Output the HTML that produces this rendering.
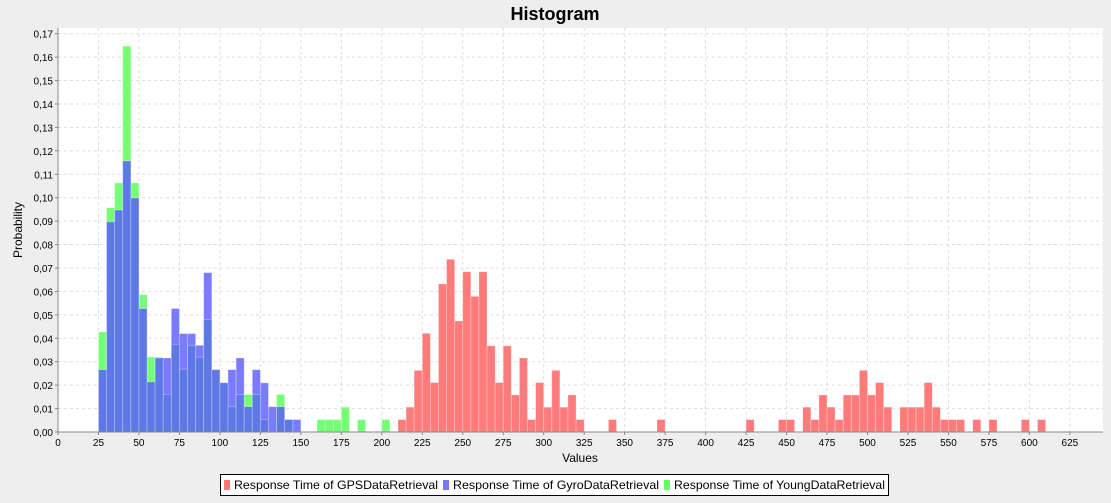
<!DOCTYPE html>
<html><head><meta charset="utf-8"><style>
body{margin:0;background:#eeeeee;font-family:"Liberation Sans",sans-serif}
svg text{font-family:"Liberation Sans",sans-serif}
</style></head><body>
<svg id="c" width="1111" height="498" xmlns="http://www.w3.org/2000/svg">
<rect x="0" y="0" width="1111" height="498" fill="#eeeeee"/>
<text x="555" y="20" text-anchor="middle" font-size="18" font-weight="bold">Histogram</text>
<rect x="58" y="28" width="1045" height="404" fill="#fff"/>
<g id="grid"></g>
<g id="bars"></g>
<g id="axes"></g>
<text x="22" y="230" transform="rotate(-90 22 230)" text-anchor="middle" font-size="12">Probability</text>
<text x="580" y="462" text-anchor="middle" font-size="12">Values</text>
<g>
<rect x="220.5" y="474.5" width="668" height="21" fill="#fff" stroke="#000"/>
<rect x="224" y="480" width="6" height="10" fill="#ff7777"/>
<text x="234" y="489" font-size="12" textLength="204" lengthAdjust="spacingAndGlyphs">Response Time of GPSDataRetrieval</text>
<rect x="443" y="480" width="6" height="10" fill="#7777ff"/>
<text x="453" y="489" font-size="12" textLength="206" lengthAdjust="spacingAndGlyphs">Response Time of GyroDataRetrieval</text>
<rect x="664" y="480" width="6" height="10" fill="#66ff66"/>
<text x="674" y="489" font-size="12" textLength="211" lengthAdjust="spacingAndGlyphs">Response Time of YoungDataRetrieval</text>
</g>
</svg>
<script>
const binWidth = 5;
const gpsBins = [210,215,220,225,230,235,240,245,250,255,260,265,270,275,280,285,290,295,300,305,310,315,320,340,370,425,445,450,460,465,470,475,480,485,490,495,500,505,510,520,525,530,535,540,545,550,555,565,575,595,605];
const gpsValues = [0.0053,0.0106,0.0263,0.0421,0.0211,0.0632,0.0737,0.0474,0.0684,0.0579,0.0684,0.0368,0.0211,0.0368,0.0158,0.0316,0.0053,0.0211,0.0106,0.0263,0.0106,0.0158,0.0053,0.0053,0.0053,0.0053,0.0053,0.0053,0.0106,0.0053,0.0158,0.0106,0.0053,0.0158,0.0158,0.0263,0.0158,0.0211,0.0106,0.0106,0.0106,0.0106,0.0211,0.0106,0.0053,0.0053,0.0053,0.0053,0.0053,0.0053,0.0053];
const gyroBins = [25,30,35,40,45,50,55,60,65,70,75,80,85,90,95,100,105,110,115,120,125,130,135,140,145];
const gyroValues = [0.0266,0.0897,0.0947,0.1157,0.0999,0.0527,0.0214,0.0316,0.0316,0.0527,0.042,0.042,0.037,0.068,0.0266,0.021,0.0266,0.0316,0.0108,0.0266,0.021,0.0108,0.0108,0.0053,0.0053];
const youngBins = [25,30,35,40,45,50,55,60,65,70,75,80,85,90,95,100,105,110,115,120,125,135,140,160,165,170,175,185,200];
const youngValues = [0.0427,0.0957,0.1063,0.1647,0.1063,0.0586,0.032,0.032,0.016,0.0374,0.0268,0.037,0.032,0.048,0.0266,0.021,0.0108,0.016,0.016,0.016,0.0053,0.016,0.0053,0.0053,0.0053,0.0053,0.0106,0.0053,0.0053];
const yTicks = [0,0.01,0.02,0.03,0.04,0.05,0.06,0.07,0.08,0.09,0.10,0.11,0.12,0.13,0.14,0.15,0.16,0.17];
const xTicks = [0,25,50,75,100,125,150,175,200,225,250,275,300,325,350,375,400,425,450,475,500,525,550,575,600,625];

const NS="http://www.w3.org/2000/svg";
const X0=58, X1=1103, Y0=432, Y1=28;
function xs(v){return X0+v*1.619;}
function ys(p){return Y0-p*2343;}
function mk(tag,attrs,parent){const e=document.createElementNS(NS,tag);for(const k in attrs)e.setAttribute(k,attrs[k]);parent.appendChild(e);return e;}
const grid=document.getElementById('grid'), axes=document.getElementById('axes'), bars=document.getElementById('bars');
yTicks.forEach(t=>{
  const y=ys(t);
  const g=mk('line',{x1:X0,x2:X1,y1:y,y2:y,stroke:'#dddddd','stroke-dasharray':'3,3'},grid);
  
  
  mk('line',{x1:X0-3,x2:X0,y1:y,y2:y,stroke:'#888'},axes);
  const tx=mk('text',{x:X0-5,y:y+4,'text-anchor':'end','font-size':'10'},axes);
  tx.textContent=t.toFixed(2).replace('.',',');
  
  
});
xTicks.forEach(t=>{
  const x=xs(t);
  const g=mk('line',{x1:x,x2:x,y1:Y1,y2:Y0,stroke:'#dddddd','stroke-dasharray':'3,3'},grid);
  
  
  mk('line',{x1:x,x2:x,y1:Y0,y2:Y0+3,stroke:'#888'},axes);
  const tx=mk('text',{x:x,y:Y0+14,'text-anchor':'middle','font-size':'10'},axes);
  tx.textContent=t;
  
  
});
mk('line',{x1:X0,x2:X0,y1:Y1,y2:Y0,stroke:'#888'},axes);
mk('line',{x1:X0,x2:X1,y1:Y0,y2:Y0,stroke:'#888'},axes);
function bar(b,v,color,name){
  const x=xs(b), w=xs(b+binWidth)-x, y=ys(v);
  const r=mk('rect',{x:x,y:y,width:w,height:Y0-y,fill:color,stroke:'#ffffff','stroke-opacity':0.35,'stroke-width':0.8},bars);
  
  
}
youngBins.forEach((b,i)=>bar(b,youngValues[i],'#75ff75','bar-young'));
gyroBins.forEach((b,i)=>bar(b,gyroValues[i],'#7b7bff','bar-gyro'));
gyroBins.forEach((b,i)=>{
  const j=youngBins.indexOf(b);
  if(j>=0) bar(b,Math.min(gyroValues[i],youngValues[j]),'#5e78e5','bar-overlap');
});
gpsBins.forEach((b,i)=>bar(b,gpsValues[i],'#ff7b7b','bar-gps'));
</script>
</body></html>
